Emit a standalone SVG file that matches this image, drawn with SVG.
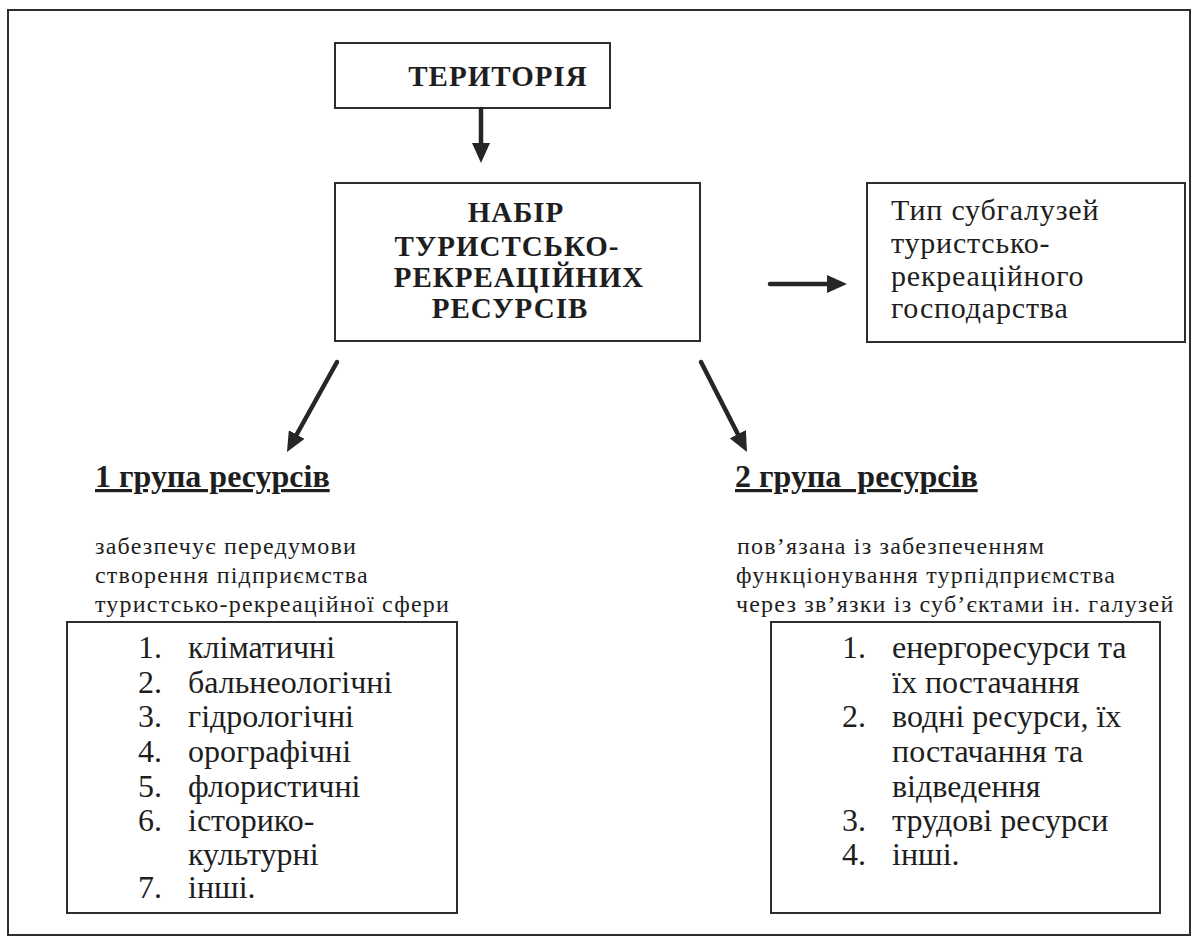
<svg xmlns="http://www.w3.org/2000/svg" width="1198" height="947" viewBox="0 0 1198 947">
<style>
.box{fill:#fff;stroke:#2e2e2e;stroke-width:2}
.frame{fill:#fff;stroke:#2e2e2e;stroke-width:2}
.sf{font-family:"Liberation Serif","Times New Roman",serif;fill:#1e1e1e}
.title{font-size:29px;font-weight:bold;text-anchor:middle;letter-spacing:1px}
.typ{font-size:30px;letter-spacing:0.8px}
.head{font-size:32px;font-weight:bold;text-decoration:underline}
.desc{font-size:24px;letter-spacing:1.2px}
.list{font-size:32px}
.conn{stroke:#262626;stroke-width:4.5;fill:none;stroke-linecap:round}
</style>
<defs>
<marker id="ah" markerUnits="userSpaceOnUse" markerWidth="20" markerHeight="18" viewBox="0 0 20 18" refX="8" refY="9" orient="auto">
<path d="M0,0 L20,9 L0,18 z" fill="#262626"/>
</marker>
</defs>
<rect class="frame" x="8" y="10" width="1182" height="925"/>

<g id="territory">
<rect class="box" x="335" y="43" width="275" height="65"/>
<text class="sf title" x="498" y="86">ТЕРИТОРІЯ</text>
</g>

<g id="resources-set">
<rect class="box" x="335" y="183" width="365" height="158"/>
<text class="sf title" x="516" y="222">НАБІР</text>
<text class="sf title" x="507" y="256">ТУРИСТСЬКО-</text>
<text class="sf title" x="519" y="287">РЕКРЕАЦІЙНИХ</text>
<text class="sf title" x="510" y="318">РЕСУРСІВ</text>
</g>

<g id="subbranch-type">
<rect class="box" x="867" y="183" width="318" height="159"/>
<text class="sf typ" x="891" y="220">Тип субгалузей</text>
<text class="sf typ" x="891" y="253">туристсько-</text>
<text class="sf typ" x="891" y="285.5">рекреаційного</text>
<text class="sf typ" x="891" y="318">господарства</text>
</g>

<g id="group1">
<text class="sf head" x="95" y="487">1 група ресурсів</text>
<text class="sf desc" x="95" y="554">забезпечує передумови</text>
<text class="sf desc" x="95" y="583">створення підприємства</text>
<text class="sf desc" x="95" y="612">туристсько-рекреаційної сфери</text>
</g>

<g id="group2">
<text class="sf head" x="735" y="487" xml:space="preserve">2 група  ресурсів</text>
<text class="sf desc" x="737" y="554">пов’язана із забезпеченням</text>
<text class="sf desc" x="736" y="583">функціонування турпідприємства</text>
<text class="sf desc" x="736" y="612">через зв’язки із суб’єктами ін. галузей</text>
</g>

<g id="list1">
<rect class="box" x="67" y="622" width="390" height="291"/>
<g class="sf list">
<text x="138" y="658">1.</text><text x="188" y="658">кліматичні</text>
<text x="138" y="693">2.</text><text x="188" y="693">бальнеологічні</text>
<text x="138" y="727">3.</text><text x="188" y="727">гідрологічні</text>
<text x="138" y="762">4.</text><text x="188" y="762">орографічні</text>
<text x="138" y="797">5.</text><text x="188" y="797">флористичні</text>
<text x="138" y="831">6.</text><text x="188" y="831">історико-</text>
<text x="188" y="865">культурні</text>
<text x="138" y="898">7.</text><text x="188" y="898">інші.</text>
</g>
</g>

<g id="list2">
<rect class="box" x="771" y="622" width="389" height="291"/>
<g class="sf list">
<text x="842" y="658">1.</text><text x="892" y="658">енергоресурси та</text>
<text x="892" y="693">їх постачання</text>
<text x="842" y="727">2.</text><text x="892" y="727">водні ресурси, їх</text>
<text x="892" y="762">постачання та</text>
<text x="892" y="797">відведення</text>
<text x="842" y="831">3.</text><text x="892" y="831">трудові ресурси</text>
<text x="842" y="865">4.</text><text x="892" y="865">інші.</text>
</g>
</g>

<g id="connectors">
<line class="conn" x1="481" y1="109" x2="481" y2="151" marker-end="url(#ah)"/>
<line class="conn" x1="770" y1="284" x2="835" y2="284" marker-end="url(#ah)"/>
<line class="conn" x1="337" y1="362" x2="292.8" y2="441.5" marker-end="url(#ah)"/>
<line class="conn" x1="701" y1="362" x2="741.5" y2="441.3" marker-end="url(#ah)"/>
</g>
</svg>
